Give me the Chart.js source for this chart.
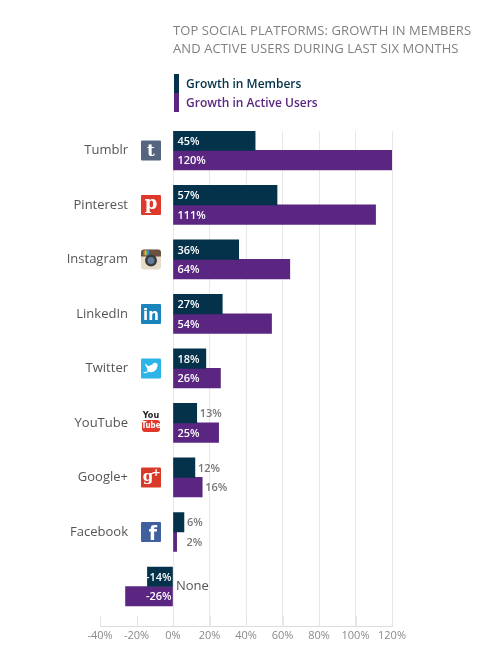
<!DOCTYPE html>
<html>
<head>
<meta charset="utf-8">
<script src="https://cdn.jsdelivr.net/npm/chart.js@4/dist/chart.umd.min.js"></script>
<style>
	body { margin: 0; background: #fff; overflow: hidden; }
	#wrap { position: relative; width: 499px; height: 661px; }
	#chart { position: absolute; left: 0; top: 0; }
	.title {
		position: absolute; left: 173px; top: 21px;
		font: 500 13px 'Open Sans', sans-serif; color: #808080;
		line-height: 18px; letter-spacing: 0.1px;
	}
	.legend { position: absolute; left: 174px; top: 74px; font: 600 12px 'Open Sans', sans-serif; }
	.legend div { position: relative; height: 19px; line-height: 19px; padding-left: 12px; }
	.legend span { position: absolute; left: 0; top: 0; width: 5px; height: 19px; }
</style>
</head>
<body>
<div id="wrap">
	<canvas id="chart" width="499" height="661"></canvas>
	<div class="title">TOP SOCIAL PLATFORMS: GROWTH IN MEMBERS<br>AND ACTIVE USERS DURING LAST SIX MONTHS</div>
	<div class="legend">
		<div style="color:#04324a"><span style="background:#04324a"></span>Growth in Members</div>
		<div style="color:#5a2682"><span style="background:#5a2682"></span>Growth in Active Users</div>
	</div>
</div>
<script>
const platforms = ['Tumblr', 'Pinterest', 'Instagram', 'LinkedIn', 'Twitter', 'YouTube', 'Google+', 'Facebook', 'None'];
const membersGrowth = [45, 57, 36, 27, 18, 13, 12, 6, -14];
const activeGrowth = [120, 111, 64, 54, 26, 25, 16, 2, -26];
const xMin = -40;
const xMax = 120;
const xStep = 20;

const NAVY = '#04324a';
const PURPLE = '#5a2682';
const FONT = "'Open Sans', sans-serif";

function roundRect(ctx, x, y, w, h, r, fill) {
	ctx.beginPath();
	ctx.roundRect(x, y, w, h, r);
	ctx.fillStyle = fill;
	ctx.fill();
}

// little logo next to each platform name
function drawIcon(ctx, name, cx, cy) {
	const s = 20;
	const x = cx - s / 2;
	const y = cy - s / 2;
	ctx.save();
	ctx.textAlign = 'center';
	ctx.textBaseline = 'middle';
	switch (name) {
		case 'Tumblr':
			roundRect(ctx, x, y, s, s, 1, '#56657f');
			ctx.fillStyle = '#fff';
			ctx.font = "bold 17px 'DejaVu Serif', serif";
			ctx.fillText('t', cx, cy + 1);
			break;
		case 'Pinterest':
			roundRect(ctx, x, y, s, s, 1, '#e0392b');
			ctx.fillStyle = '#fff';
			ctx.font = "bold 18px 'DejaVu Serif', serif";
			ctx.fillText('p', cx, cy - 1);
			break;
		case 'Instagram':
			roundRect(ctx, x, y, s, s, 3, '#e6dcc8');
			roundRect(ctx, x, y, s, 7, [3, 3, 0, 0], '#6a5140');
			['#d9473f', '#f2b637', '#7cb95a', '#3f8fd1'].forEach((c, i) => {
				ctx.fillStyle = c;
				ctx.fillRect(x + 2 + i * 1.5, y + 1, 1.5, 5);
			});
			ctx.beginPath();
			ctx.arc(cx, cy + 1, 6, 0, Math.PI * 2);
			ctx.fillStyle = '#3b3b3b';
			ctx.fill();
			ctx.beginPath();
			ctx.arc(cx, cy + 1, 3.5, 0, Math.PI * 2);
			ctx.fillStyle = '#5f7d99';
			ctx.fill();
			break;
		case 'LinkedIn':
			roundRect(ctx, x, y, s, s, 1, '#1a85bd');
			ctx.fillStyle = '#fff';
			ctx.font = "bold 15px 'DejaVu Sans', sans-serif";
			ctx.fillText('in', cx, cy + 2);
			break;
		case 'Twitter':
			roundRect(ctx, x, y, s, s, 1, '#2cb5e6');
			ctx.fillStyle = '#fff';
			ctx.beginPath();
			ctx.ellipse(cx + 1, cy, 5, 3.6, -0.35, 0, Math.PI * 2);
			ctx.fill();
			ctx.beginPath();
			ctx.arc(cx + 4, cy - 3, 2.6, 0, Math.PI * 2);
			ctx.fill();
			ctx.beginPath();
			ctx.moveTo(cx - 6, cy - 5);
			ctx.quadraticCurveTo(cx - 5, cy + 1, cx, cy + 1);
			ctx.lineTo(cx - 2, cy - 2);
			ctx.fill();
			ctx.beginPath();
			ctx.moveTo(cx - 2, cy + 3);
			ctx.quadraticCurveTo(cx - 6, cy + 6, cx - 8, cy + 4);
			ctx.lineTo(cx, cy + 2);
			ctx.fill();
			break;
		case 'YouTube':
			ctx.fillStyle = '#222';
			ctx.font = "bold 9px 'DejaVu Sans Condensed', sans-serif";
			ctx.fillText('You', cx, y + 3);
			roundRect(ctx, x + 1, cy - 3, s - 2, 12, 3, '#e0392b');
			ctx.fillStyle = '#fff';
			ctx.font = "bold 8px 'DejaVu Sans Condensed', sans-serif";
			ctx.fillText('Tube', cx, cy + 3);
			break;
		case 'Google+':
			roundRect(ctx, x, y, s, s, 1, '#d73a28');
			ctx.fillStyle = '#fff';
			ctx.font = "bold 15px 'DejaVu Serif', serif";
			ctx.fillText('g', cx - 3, cy);
			ctx.font = "bold 11px 'DejaVu Sans', sans-serif";
			ctx.fillText('+', cx + 5, cy - 4);
			break;
		case 'Facebook':
			roundRect(ctx, x, y, s, s, 1, '#3f5f9f');
			ctx.fillStyle = '#fff';
			ctx.font = "bold 19px 'DejaVu Sans', sans-serif";
			ctx.fillText('f', cx + 2, cy + 3);
			break;
		default:
			ctx.restore();
			return false;
	}
	ctx.restore();
	return true;
}

const categoryLabels = {
	id: 'categoryLabels',
	afterDatasetsDraw(chart) {
		const { ctx, scales } = chart;
		const zero = scales.x.getPixelForValue(0);
		ctx.save();
		ctx.font = '13px ' + FONT;
		ctx.fillStyle = '#555';
		ctx.textBaseline = 'middle';
		platforms.forEach((name, i) => {
			const cy = scales.y.getPixelForValue(i);
			if (drawIcon(ctx, name, zero - 22, cy)) {
				ctx.textAlign = 'right';
				ctx.fillText(name, zero - 45, cy);
			} else {
				ctx.textAlign = 'left';
				ctx.fillText(name, zero + 3, cy);
			}
		});
		ctx.restore();
	},
};

const valueLabels = {
	id: 'valueLabels',
	afterDatasetsDraw(chart) {
		const { ctx } = chart;
		ctx.save();
		ctx.font = '600 11px ' + FONT;
		ctx.textBaseline = 'middle';
		chart.data.datasets.forEach((ds, di) => {
			chart.getDatasetMeta(di).data.forEach((bar, i) => {
				const v = ds.data[i].x;
				const txt = v + '%';
				if (v < 0) {
					ctx.fillStyle = '#fff';
					ctx.textAlign = 'right';
					ctx.fillText(txt, bar.base - 1, bar.y + 1);
				} else if (bar.x - bar.base < 30) {
					ctx.fillStyle = '#777';
					ctx.textAlign = 'left';
					ctx.fillText(txt, Math.max(bar.x + 3, bar.base + 13), bar.y + 1);
				} else {
					ctx.fillStyle = '#fff';
					ctx.textAlign = 'left';
					ctx.fillText(txt, bar.base + 4, bar.y + 1);
				}
			});
		});
		ctx.restore();
	},
};

// short tick marks standing on the bottom axis (negative side has no full grid line)
const axisMarks = {
	id: 'axisMarks',
	beforeDatasetsDraw(chart) {
		const { ctx, scales, chartArea } = chart;
		ctx.save();
		ctx.strokeStyle = '#e4e4e4';
		ctx.lineWidth = 1;
		scales.x.ticks.forEach((t) => {
			const px = Math.round(scales.x.getPixelForValue(t.value)) + 0.5;
			ctx.beginPath();
			ctx.moveTo(px, chartArea.bottom - 11);
			ctx.lineTo(px, chartArea.bottom);
			ctx.stroke();
		});
		ctx.restore();
	},
};

new Chart(document.getElementById('chart'), {
	type: 'bar',
	data: {
		datasets: [
			{
				label: 'Growth in Members',
				data: membersGrowth.map((v, i) => ({ x: v, y: i })),
				backgroundColor: NAVY,
			},
			{
				label: 'Growth in Active Users',
				data: activeGrowth.map((v, i) => ({ x: v, y: i })),
				backgroundColor: PURPLE,
			},
		],
	},
	options: {
		responsive: false,
		animation: false,
		indexAxis: 'y',
		barThickness: 19.5,
		layout: { padding: { top: 131, left: 100, right: 107, bottom: 17 } },
		scales: {
			y: {
				type: 'linear',
				reverse: true,
				offset: false,
				min: -0.356,
				max: 8.74,
				display: false,
			},
			x: {
				type: 'linear',
				min: xMin,
				max: xMax,
				ticks: {
					stepSize: xStep,
					color: '#8a8a8a',
					font: { family: FONT, size: 11 },
					padding: 2,
					callback: (v) => v + '%',
				},
				grid: {
					drawTicks: false,
					color: (c) => (c.tick && c.tick.value < 0 ? 'rgba(0,0,0,0)' : '#e8e8e8'),
				},
				border: { color: '#dcdcdc' },
			},
		},
		plugins: {
			legend: { display: false },
			tooltip: { enabled: false },
		},
	},
	plugins: [axisMarks, categoryLabels, valueLabels],
});
</script>
</body>
</html>
